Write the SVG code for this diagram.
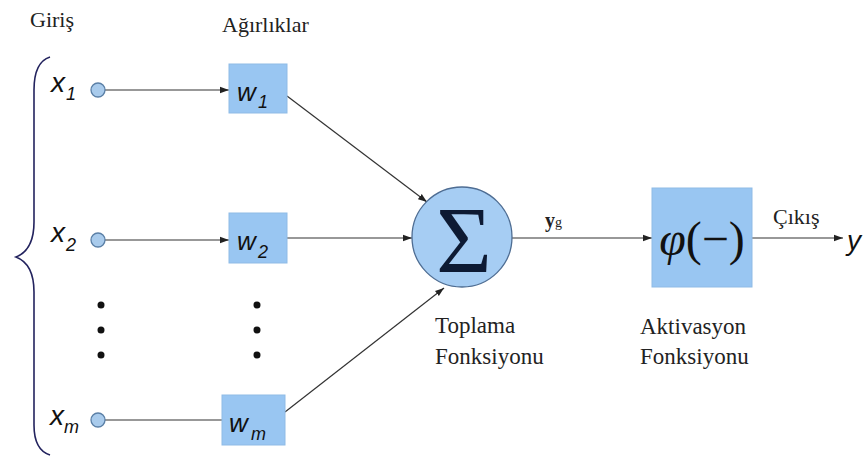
<svg xmlns="http://www.w3.org/2000/svg" width="866" height="457" viewBox="0 0 866 457">
<style>
.lbl{font-family:'Liberation Serif',serif;font-size:22px;fill:#222}
.var{font-family:'Liberation Sans',sans-serif;font-style:italic;font-size:28px;fill:#111}
.sub{font-family:'Liberation Sans',sans-serif;font-style:italic;font-size:18px;fill:#111}
.in{fill:#a9cbec;stroke:#5a7fa6;stroke-width:1.3}
.box{fill:#99c6f2;stroke:#8fbbe6;stroke-width:1}
.ln{stroke:#333;stroke-width:1.2;fill:none}
.dot{fill:#111}
</style>
<defs>
<marker id="ah" markerWidth="10" markerHeight="8" refX="9" refY="4" orient="auto" markerUnits="userSpaceOnUse">
<path d="M0,0.8 L9,4 L0,7.2 Z" fill="#222"/>
</marker>
</defs>
<rect width="866" height="457" fill="#fff"/>
<text class="lbl" x="30" y="27">Giriş</text>
<text class="lbl" x="222" y="32">Ağırlıklar</text>
<path d="M50,57 Q34,62 34,90 L34,222 Q34,250 16,257 Q34,264 34,292 L34,425 Q34,450 50,455" fill="none" stroke="#23235e" stroke-width="1.6"/>
<g id="connectors">
<line class="ln" x1="105" y1="90" x2="229" y2="90" marker-end="url(#ah)"/>
<line class="ln" x1="105" y1="240" x2="229" y2="240" marker-end="url(#ah)"/>
<line class="ln" x1="105" y1="420" x2="222" y2="420"/>
<line class="ln" x1="287" y1="96" x2="427" y2="202" marker-end="url(#ah)"/>
<line class="ln" x1="287" y1="238" x2="412" y2="238" marker-end="url(#ah)"/>
<line class="ln" x1="285" y1="412" x2="444" y2="288" marker-end="url(#ah)"/>
<line class="ln" x1="512" y1="238" x2="652" y2="238" marker-end="url(#ah)"/>
<line class="ln" x1="752" y1="238" x2="843" y2="238" marker-end="url(#ah)"/>
</g>
<g id="x1"><text class="var" x="51" y="92">x</text><text class="sub" x="66" y="100">1</text><circle class="in" cx="98" cy="90" r="7"/></g>
<g id="x2"><text class="var" x="51" y="242">x</text><text class="sub" x="66" y="251">2</text><circle class="in" cx="98" cy="240" r="7"/></g>
<g id="xm"><text class="var" x="50" y="425">x</text><text class="sub" x="64" y="433">m</text><circle class="in" cx="98" cy="420" r="7"/></g>
<g id="dots1"><circle class="dot" cx="101" cy="305" r="3.5"/><circle class="dot" cx="101" cy="330" r="3.5"/><circle class="dot" cx="101" cy="355" r="3.5"/></g>
<g id="dots2"><circle class="dot" cx="257" cy="305" r="3.5"/><circle class="dot" cx="257" cy="330" r="3.5"/><circle class="dot" cx="257" cy="355" r="3.5"/></g>
<g id="w1"><rect class="box" x="229" y="64" width="58" height="49"/><text class="var" x="237" y="101" style="font-size:26px">w</text><text class="sub" x="258" y="108">1</text></g>
<g id="w2"><rect class="box" x="229" y="213" width="58" height="50"/><text class="var" x="237" y="250" style="font-size:26px">w</text><text class="sub" x="258" y="258">2</text></g>
<g id="wm"><rect class="box" x="222" y="395" width="63" height="50"/><text class="var" x="229" y="432" style="font-size:26px">w</text><text class="sub" x="251" y="440">m</text></g>
<g id="sum"><circle cx="462" cy="237" r="50" fill="#a6cdf3" stroke="#4e6d93" stroke-width="1.3"/><text x="464" y="273" text-anchor="middle" font-family="Liberation Serif, serif" font-size="96" fill="#0d1a33">Σ</text>
<text class="lbl" x="435" y="333" style="font-size:23px">Toplama</text><text class="lbl" x="435" y="364" style="font-size:23px">Fonksiyonu</text></g>
<text x="545" y="227" font-family="Liberation Serif, serif" font-weight="bold" font-size="20" fill="#222">y<tspan font-size="14" font-weight="normal">g</tspan></text>
<g id="act"><rect class="box" x="652" y="188" width="100" height="99" stroke="#6f8fb0"/><text x="702" y="255" text-anchor="middle" font-family="Liberation Serif, serif" font-size="48" fill="#111"><tspan font-style="italic">φ</tspan>(−)</text>
<text class="lbl" x="640" y="334" style="font-size:23px">Aktivasyon</text><text class="lbl" x="640" y="364" style="font-size:23px">Fonksiyonu</text></g>
<text class="lbl" x="773" y="224">Çıkış</text>
<text class="var" x="847" y="250">y</text>
</svg>
